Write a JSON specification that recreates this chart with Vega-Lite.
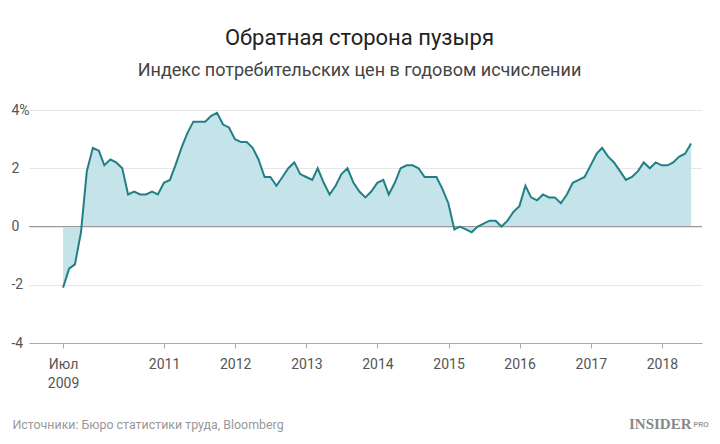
{
  "$schema": "https://vega.github.io/schema/vega-lite/v6.json",
  "width": 673,
  "height": 233,
  "autosize": {"type": "none"},
  "padding": {"left": 29, "top": 110, "right": 18, "bottom": 101},
  "background": "white",
  "config": {"view": {"stroke": null}},
  "title": {
    "text": "Обратная сторона пузыря",
    "subtitle": "Индекс потребительских цен в годовом исчислении",
    "anchor": "middle",
    "frame": "group",
    "dx": -6,
    "font": "Roboto",
    "fontSize": 22,
    "fontWeight": "normal",
    "color": "#222222",
    "subtitleFont": "Roboto",
    "subtitleFontSize": 18,
    "subtitleColor": "#444444",
    "subtitlePadding": 12,
    "offset": 22
  },
  "data": {
    "values": [
      {"date": "2009-07-31", "cpi": -2.1}, {"date": "2009-08-31", "cpi": -1.45}, {"date": "2009-09-30", "cpi": -1.3},
      {"date": "2009-10-31", "cpi": -0.2}, {"date": "2009-11-30", "cpi": 1.9}, {"date": "2009-12-31", "cpi": 2.7},
      {"date": "2010-01-31", "cpi": 2.6}, {"date": "2010-02-28", "cpi": 2.1}, {"date": "2010-03-31", "cpi": 2.3},
      {"date": "2010-04-30", "cpi": 2.2}, {"date": "2010-05-31", "cpi": 2.0}, {"date": "2010-06-30", "cpi": 1.1},
      {"date": "2010-07-31", "cpi": 1.2}, {"date": "2010-08-31", "cpi": 1.1}, {"date": "2010-09-30", "cpi": 1.1},
      {"date": "2010-10-31", "cpi": 1.2}, {"date": "2010-11-30", "cpi": 1.1}, {"date": "2010-12-31", "cpi": 1.5},
      {"date": "2011-01-31", "cpi": 1.6}, {"date": "2011-02-28", "cpi": 2.1}, {"date": "2011-03-31", "cpi": 2.7},
      {"date": "2011-04-30", "cpi": 3.2}, {"date": "2011-05-31", "cpi": 3.6}, {"date": "2011-06-30", "cpi": 3.6},
      {"date": "2011-07-31", "cpi": 3.6}, {"date": "2011-08-31", "cpi": 3.8}, {"date": "2011-09-30", "cpi": 3.9},
      {"date": "2011-10-31", "cpi": 3.5}, {"date": "2011-11-30", "cpi": 3.4}, {"date": "2011-12-31", "cpi": 3.0},
      {"date": "2012-01-31", "cpi": 2.9}, {"date": "2012-02-29", "cpi": 2.9}, {"date": "2012-03-31", "cpi": 2.7},
      {"date": "2012-04-30", "cpi": 2.3}, {"date": "2012-05-31", "cpi": 1.7}, {"date": "2012-06-30", "cpi": 1.7},
      {"date": "2012-07-31", "cpi": 1.4}, {"date": "2012-08-31", "cpi": 1.7}, {"date": "2012-09-30", "cpi": 2.0},
      {"date": "2012-10-31", "cpi": 2.2}, {"date": "2012-11-30", "cpi": 1.8}, {"date": "2012-12-31", "cpi": 1.7},
      {"date": "2013-01-31", "cpi": 1.6}, {"date": "2013-02-28", "cpi": 2.0}, {"date": "2013-03-31", "cpi": 1.5},
      {"date": "2013-04-30", "cpi": 1.1}, {"date": "2013-05-31", "cpi": 1.4}, {"date": "2013-06-30", "cpi": 1.8},
      {"date": "2013-07-31", "cpi": 2.0}, {"date": "2013-08-31", "cpi": 1.5}, {"date": "2013-09-30", "cpi": 1.2},
      {"date": "2013-10-31", "cpi": 1.0}, {"date": "2013-11-30", "cpi": 1.2}, {"date": "2013-12-31", "cpi": 1.5},
      {"date": "2014-01-31", "cpi": 1.6}, {"date": "2014-02-28", "cpi": 1.1}, {"date": "2014-03-31", "cpi": 1.5},
      {"date": "2014-04-30", "cpi": 2.0}, {"date": "2014-05-31", "cpi": 2.1}, {"date": "2014-06-30", "cpi": 2.1},
      {"date": "2014-07-31", "cpi": 2.0}, {"date": "2014-08-31", "cpi": 1.7}, {"date": "2014-09-30", "cpi": 1.7},
      {"date": "2014-10-31", "cpi": 1.7}, {"date": "2014-11-30", "cpi": 1.3}, {"date": "2014-12-31", "cpi": 0.8},
      {"date": "2015-01-31", "cpi": -0.1}, {"date": "2015-02-28", "cpi": 0.0}, {"date": "2015-03-31", "cpi": -0.1},
      {"date": "2015-04-30", "cpi": -0.2}, {"date": "2015-05-31", "cpi": 0.0}, {"date": "2015-06-30", "cpi": 0.1},
      {"date": "2015-07-31", "cpi": 0.2}, {"date": "2015-08-31", "cpi": 0.2}, {"date": "2015-09-30", "cpi": 0.0},
      {"date": "2015-10-31", "cpi": 0.2}, {"date": "2015-11-30", "cpi": 0.5}, {"date": "2015-12-31", "cpi": 0.7},
      {"date": "2016-01-31", "cpi": 1.4}, {"date": "2016-02-29", "cpi": 1.0}, {"date": "2016-03-31", "cpi": 0.9},
      {"date": "2016-04-30", "cpi": 1.1}, {"date": "2016-05-31", "cpi": 1.0}, {"date": "2016-06-30", "cpi": 1.0},
      {"date": "2016-07-31", "cpi": 0.8}, {"date": "2016-08-31", "cpi": 1.1}, {"date": "2016-09-30", "cpi": 1.5},
      {"date": "2016-10-31", "cpi": 1.6}, {"date": "2016-11-30", "cpi": 1.7}, {"date": "2016-12-31", "cpi": 2.1},
      {"date": "2017-01-31", "cpi": 2.5}, {"date": "2017-02-28", "cpi": 2.7}, {"date": "2017-03-31", "cpi": 2.4},
      {"date": "2017-04-30", "cpi": 2.2}, {"date": "2017-05-31", "cpi": 1.9}, {"date": "2017-06-30", "cpi": 1.6},
      {"date": "2017-07-31", "cpi": 1.7}, {"date": "2017-08-31", "cpi": 1.9}, {"date": "2017-09-30", "cpi": 2.2},
      {"date": "2017-10-31", "cpi": 2.0}, {"date": "2017-11-30", "cpi": 2.2}, {"date": "2017-12-31", "cpi": 2.1},
      {"date": "2018-01-31", "cpi": 2.1}, {"date": "2018-02-28", "cpi": 2.2}, {"date": "2018-03-31", "cpi": 2.4},
      {"date": "2018-04-30", "cpi": 2.5}, {"date": "2018-05-31", "cpi": 2.85}
    ]
  },
  "layer": [
    {
      "mark": {"type": "area", "color": "#c4e4e9", "opacity": 1},
      "encoding": {
        "x": {
          "field": "date",
          "type": "temporal",
          "scale": {"type": "utc", "domain": [{"year": 2009, "month": 2, "date": 6, "utc": true}, {"year": 2018, "month": 7, "date": 26, "utc": true}]},
          "axis": {
            "values": [
              {"year": 2009, "month": 7, "date": 31, "utc": true},
              {"year": 2011, "month": 1, "date": 1, "utc": true},
              {"year": 2012, "month": 1, "date": 1, "utc": true},
              {"year": 2013, "month": 1, "date": 1, "utc": true},
              {"year": 2014, "month": 1, "date": 1, "utc": true},
              {"year": 2015, "month": 1, "date": 1, "utc": true},
              {"year": 2016, "month": 1, "date": 1, "utc": true},
              {"year": 2017, "month": 1, "date": 1, "utc": true},
              {"year": 2018, "month": 1, "date": 1, "utc": true}
            ],
            "labelExpr": "utcyear(datum.value) == 2009 ? ['Июл', '2009'] : utcFormat(datum.value, '%Y')",
            "grid": false,
            "domainColor": "#aaaaaa",
            "tickColor": "#aaaaaa",
            "tickSize": 5,
            "labelPadding": 9,
            "labelFont": "Roboto",
            "labelFontSize": 14,
            "labelColor": "#555555",
            "labelLineHeight": 19,
            "labelFlush": false,
            "labelOverlap": false,
            "labelBound": false,
            "title": "Источники: Бюро статистики труда, Bloomberg",
            "titleFont": "Roboto",
            "titleFontSize": 12.4,
            "titleFontWeight": "normal",
            "titleColor": "#999999",
            "titleAnchor": "start",
            "titleAlign": "left",
            "titleBaseline": "alphabetic",
            "titleX": -17,
            "titleY": 85
          }
        },
        "y": {
          "field": "cpi",
          "type": "quantitative",
          "scale": {"domain": [-4, 4], "nice": false},
          "axis": {
            "values": [-4, -2, 0, 2, 4],
            "labelExpr": "datum.value == 4 ? '4%' : '' + datum.value",
            "grid": true,
            "gridColor": "#e6e6e6",
            "domain": false,
            "ticks": false,
            "labelAlign": "left",
            "labelBaseline": "middle",
            "labelPadding": 18,
            "labelFont": "Roboto",
            "labelFontSize": 14,
            "labelColor": "#555555",
            "title": null
          }
        },
        "y2": {"datum": 0}
      }
    },
    {
      "mark": {"type": "rule", "color": "#999999", "strokeWidth": 1},
      "encoding": {"y": {"datum": 0, "axis": null}}
    },
    {
      "mark": {"type": "line", "color": "#237f86", "strokeWidth": 2},
      "encoding": {
        "x": {
          "field": "date",
          "type": "temporal",
          "axis": {
            "orient": "top",
            "labels": false,
            "ticks": false,
            "domain": false,
            "grid": false,
            "title": "PRO",
            "titleFont": "Liberation Sans",
            "titleFontSize": 7,
            "titleFontWeight": "bold",
            "titleColor": "#999999",
            "titleAnchor": "start",
            "titleAlign": "left",
            "titleBaseline": "alphabetic",
            "titleX": 664,
            "titleY": 316
          }
        },
        "y": {
          "field": "cpi",
          "type": "quantitative",
          "axis": {
            "orient": "right",
            "labels": false,
            "ticks": false,
            "domain": false,
            "grid": false,
            "title": "INSIDER",
            "titleAngle": 0,
            "titleFont": "Liberation Serif",
            "titleFontSize": 15,
            "titleFontWeight": "bold",
            "titleColor": "#888888",
            "titleAlign": "right",
            "titleBaseline": "alphabetic",
            "titleX": -11,
            "titleY": 318
          }
        }
      }
    }
  ],
  "resolve": {"axis": {"x": "independent", "y": "independent"}}
}
